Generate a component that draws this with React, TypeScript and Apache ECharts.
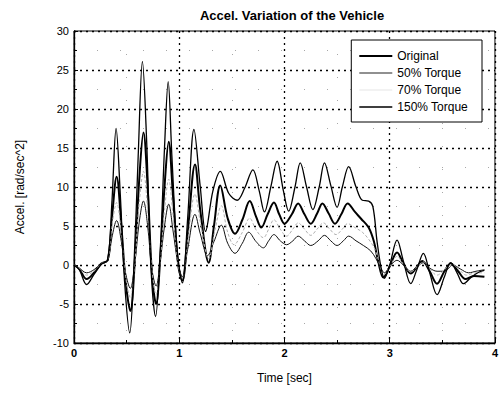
import React, { useEffect, useRef } from "react";
import * as echarts from "echarts";

// Vehicle angular acceleration vs. time, [time (s), accel (rad/s^2)]
const original: [number, number][] = [
  [0, 0], [0.05, -0.5], [0.12, -1.8], [0.19, -1], [0.26, 0.2], [0.32, 0.6], [0.36, 6], [0.405, 11.3],
  [0.45, 5], [0.49, -2], [0.535, -5.9], [0.58, 1], [0.62, 11], [0.66, 17], [0.7, 10], [0.74, -1],
  [0.78, -5], [0.82, 1], [0.86, 10], [0.9, 15.8], [0.94, 9], [0.99, 0], [1.03, -2], [1.08, 4],
  [1.15, 12.9], [1.2, 7], [1.28, 0.3], [1.33, 5], [1.39, 10.2], [1.46, 6], [1.53, 4], [1.6, 5.8],
  [1.67, 8.2], [1.73, 6.2], [1.78, 4.8], [1.84, 6.5], [1.9, 8], [1.95, 6.5], [2.0, 5.3], [2.07, 6.5],
  [2.13, 7.9], [2.19, 6.5], [2.25, 5.3], [2.31, 6.6], [2.36, 7.9], [2.42, 6.6], [2.48, 5.3], [2.54, 6.5],
  [2.6, 7.9], [2.67, 6.8], [2.73, 5.9], [2.8, 4.8], [2.85, 3], [2.89, 0.5], [2.94, -1.6], [3.0, -0.2],
  [3.07, 1.6], [3.13, 0.2], [3.2, -1.1], [3.26, -0.2], [3.31, 0.5], [3.38, -0.8], [3.45, -2.4], [3.52, -0.8],
  [3.58, 0.2], [3.65, -0.8], [3.72, -1.8], [3.8, -1.4], [3.9, -1.5],
];

const torque50: [number, number][] = [
  [0, 0], [0.05, -0.4], [0.12, -1.0], [0.19, -0.6], [0.26, 0.2], [0.32, 0.5], [0.36, 3.5], [0.405, 5.7],
  [0.45, 3], [0.49, -1], [0.535, -3], [0.58, 0.5], [0.62, 5.5], [0.66, 8.2], [0.7, 5], [0.74, -0.5],
  [0.78, -2.7], [0.82, 0.5], [0.86, 5], [0.9, 7.8], [0.94, 4.5], [0.99, 0], [1.03, -1.5], [1.08, 2],
  [1.15, 6.5], [1.2, 4], [1.27, 1.2], [1.33, 3], [1.4, 5.1], [1.46, 2.8], [1.53, 1.5], [1.6, 2.8],
  [1.66, 4.2], [1.73, 3], [1.8, 2.2], [1.85, 3.1], [1.9, 3.9], [1.96, 3.1], [2.02, 2.6], [2.08, 3.1],
  [2.13, 3.7], [2.19, 3.1], [2.25, 2.5], [2.32, 3.1], [2.38, 3.8], [2.44, 3.1], [2.5, 2.5], [2.56, 3.1],
  [2.61, 3.7], [2.68, 3.1], [2.75, 2.5], [2.82, 1.8], [2.87, 0.8], [2.92, -0.5], [2.95, -1], [3.0, -0.2],
  [3.07, 0.6], [3.13, 0], [3.2, -0.8], [3.26, -0.2], [3.32, 0.3], [3.38, -0.4], [3.45, -0.8], [3.52, -0.8],
  [3.6, 0], [3.67, -0.5], [3.75, -1], [3.82, -0.8], [3.9, -0.6],
];

const torque70: [number, number][] = [
  [0, 0], [0.05, -0.4], [0.12, -1.3], [0.19, -0.8], [0.26, 0.2], [0.32, 0.5], [0.36, 5], [0.405, 8],
  [0.45, 4], [0.49, -1.5], [0.535, -4.2], [0.58, 0.7], [0.62, 8], [0.66, 12], [0.7, 7], [0.74, -0.7],
  [0.78, -3.8], [0.82, 0.7], [0.86, 7], [0.9, 11], [0.94, 6.5], [0.99, 0], [1.03, -1.8], [1.08, 3],
  [1.15, 9.1], [1.2, 5.5], [1.28, 0.8], [1.34, 4.5], [1.4, 7.6], [1.46, 4.2], [1.52, 2.6], [1.6, 4.2],
  [1.67, 6], [1.73, 4.5], [1.8, 3.5], [1.85, 4.6], [1.9, 5.8], [1.96, 4.6], [2.02, 3.7], [2.08, 4.6],
  [2.13, 5.4], [2.19, 4.6], [2.25, 3.8], [2.31, 4.6], [2.37, 5.4], [2.43, 4.6], [2.49, 3.9], [2.55, 4.6],
  [2.6, 5.3], [2.67, 4.8], [2.74, 4.2], [2.8, 3.3], [2.86, 2], [2.9, 0.3], [2.94, -1.3], [3.0, -0.2],
  [3.07, 1.1], [3.13, 0.1], [3.2, -0.9], [3.26, -0.2], [3.32, 0.4], [3.38, -0.5], [3.45, -1.3], [3.52, -0.6],
  [3.59, 0.1], [3.66, -0.6], [3.73, -1.3], [3.82, -1], [3.9, -1.0],
];

const torque150: [number, number][] = [
  [0, 0], [0.05, -0.6], [0.12, -2.5], [0.19, -1.2], [0.26, 0.1], [0.32, 0.6], [0.36, 8], [0.4, 17.5],
  [0.44, 9], [0.48, -2], [0.53, -8.7], [0.57, 0], [0.61, 14], [0.65, 26.1], [0.69, 16], [0.73, 0],
  [0.775, -6.6], [0.82, 2], [0.86, 15], [0.895, 23.5], [0.93, 14], [0.98, 2], [1.03, -2.3], [1.08, 6],
  [1.14, 17.4], [1.2, 10], [1.25, 4.3], [1.32, 9.5], [1.39, 12], [1.47, 9.2], [1.55, 8.3], [1.62, 9.8],
  [1.7, 12.2], [1.76, 9.5], [1.81, 6.8], [1.87, 10], [1.93, 13.3], [1.99, 9.5], [2.04, 6.9], [2.1, 10],
  [2.15, 13.1], [2.21, 10], [2.27, 7.1], [2.33, 10], [2.38, 13.1], [2.44, 10.2], [2.5, 7.4], [2.55, 10],
  [2.61, 12.6], [2.68, 10], [2.74, 8.3], [2.8, 8.2], [2.84, 7.5], [2.88, 3], [2.92, -0.5], [2.95, -1.7],
  [3.0, 0], [3.07, 3.2], [3.13, 0.5], [3.2, -2.4], [3.26, -0.5], [3.32, 1.5], [3.38, -1], [3.45, -3.8],
  [3.52, -1.5], [3.58, 0.3], [3.64, -1], [3.7, -2.4], [3.78, -1.5], [3.85, -0.9], [3.9, -0.7],
];

const seriesNames = ["Original", "50% Torque", "70% Torque", "150% Torque"];

const FONT = "Liberation Sans, Arial, sans-serif";

// legend key strokes: a filled band inside a 36x4 box, so each key keeps its own thickness
const keyStroke = (y0: number, y1: number) =>
  `path://M0,0h36v0.01h-36z M0,${y0}h36v${y1 - y0}h-36z M0,3.99h36v0.01h-36z`;

export default function App() {
  const ref = useRef<HTMLDivElement>(null);

  useEffect(() => {
    if (!ref.current) return;
    const chart = echarts.init(ref.current, undefined, { renderer: "svg" });

    const majorSplit = { show: true, lineStyle: { color: "#000", width: 1.3, type: [2, 4] as number[] } };
    const minorSplit = { show: true, lineStyle: { color: "#a8a8a8", width: 1, type: [1, 22] as number[] } };

    const line = (name: string, data: [number, number][], color: string, width: number, type: any = "solid") => ({
      name,
      type: "line",
      data,
      smooth: 0.35,
      symbol: "none",
      lineStyle: { color, width, type },
      itemStyle: { color },
    });

    const legendKeys = [
      { name: seriesNames[0], color: "#000", icon: keyStroke(1, 3) },
      { name: seriesNames[1], color: "#222", icon: keyStroke(1.5, 2.5) },
      { name: seriesNames[2], color: "#e6e6e6", icon: keyStroke(1.5, 2.5) },
      { name: seriesNames[3], color: "#000", icon: keyStroke(1.3, 2.7) },
    ].map((k) => ({ name: k.name, icon: k.icon, itemStyle: { color: k.color } }));

    chart.setOption({
      animation: false,
      backgroundColor: "#fff",
      textStyle: { fontFamily: FONT },
      title: {
        text: "Accel. Variation of the Vehicle",
        left: 287,
        top: 4,
        textAlign: "center",
        textStyle: { fontFamily: FONT, fontSize: 13, fontWeight: "bold", color: "#000" },
      },
      grid: {
        left: 74,
        right: 2,
        top: 31,
        bottom: 50,
        show: true,
        borderColor: "#000",
        borderWidth: 1,
        backgroundColor: "transparent",
      },
      legend: {
        data: legendKeys,
        orient: "vertical",
        right: 19,
        top: 40,
        backgroundColor: "#fff",
        borderColor: "#000",
        borderWidth: 1,
        padding: [10, 14, 9, 8],
        itemGap: 5,
        itemWidth: 33,
        itemHeight: 4,
        textStyle: { fontFamily: FONT, fontSize: 12, color: "#000", lineHeight: 12, height: 12 },
      },
      xAxis: {
        type: "value",
        min: 0,
        max: 4,
        interval: 1,
        name: "Time [sec]",
        nameLocation: "middle",
        nameGap: 29,
        nameTextStyle: { fontFamily: FONT, fontSize: 12, color: "#000" },
        axisLine: { onZero: false, lineStyle: { color: "#000", width: 1.3 } },
        axisTick: { inside: true, length: 4, lineStyle: { color: "#000" } },
        minorTick: { show: true, splitNumber: 2, length: 3, lineStyle: { color: "#000" } },
        axisLabel: { color: "#000", fontSize: 11, fontWeight: "bold", margin: 4, fontFamily: FONT },
        splitLine: majorSplit,
        minorSplitLine: minorSplit,
      },
      yAxis: {
        type: "value",
        min: -10,
        max: 30,
        interval: 5,
        name: "Accel. [rad/sec^2]",
        nameLocation: "middle",
        nameGap: 48,
        nameTextStyle: { fontFamily: FONT, fontSize: 12, color: "#000" },
        axisLine: { show: true, onZero: false, lineStyle: { color: "#000", width: 1.3 } },
        axisTick: { inside: true, length: 4, lineStyle: { color: "#000" } },
        minorTick: { show: true, splitNumber: 2, length: 3, lineStyle: { color: "#000" } },
        axisLabel: { color: "#000", fontSize: 11, margin: 5, fontFamily: FONT },
        splitLine: majorSplit,
        minorSplitLine: minorSplit,
      },
      series: [
        line(seriesNames[0], original, "#000", 2),
        line(seriesNames[1], torque50, "#111", 1),
        line(seriesNames[2], torque70, "#b0b0b0", 1, [3, 2]),
        line(seriesNames[3], torque150, "#000", 1.3),
      ],
    });

    return () => chart.dispose();
  }, []);

  return (
    <div
      ref={ref}
      style={{ position: "fixed", left: 0, top: 0, width: 501, height: 393, background: "#fff" }}
    />
  );
}
